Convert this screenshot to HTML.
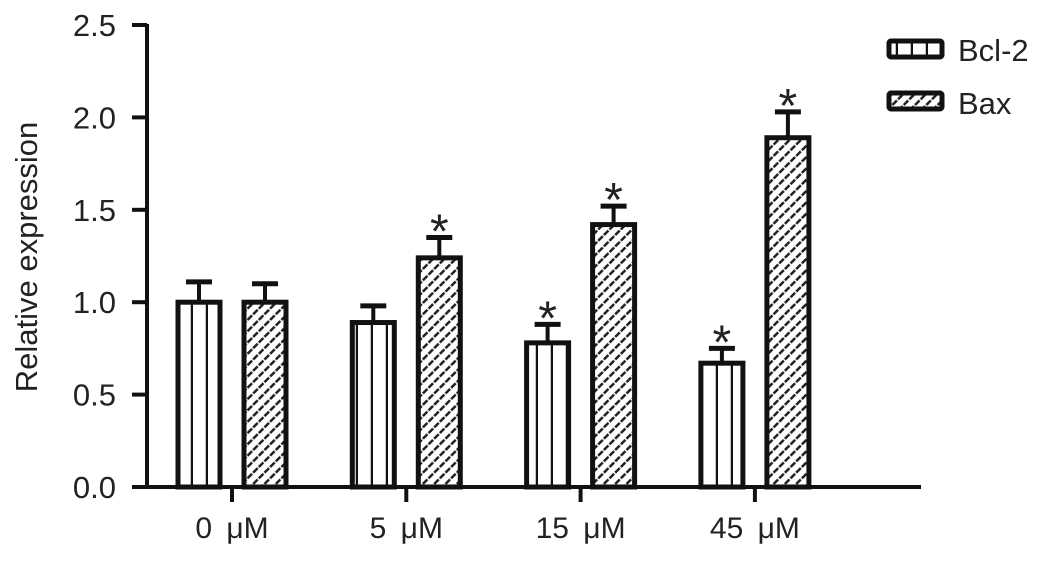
<!DOCTYPE html>
<html><head><meta charset="utf-8"><style>
body{margin:0;background:#fff;}
svg text{font-family:"Liberation Sans",Arial,sans-serif;fill:#222;}
</style></head><body>
<svg id="chart" width="1045" height="562" viewBox="0 0 1045 562">
<defs>
<pattern id="vert" patternUnits="userSpaceOnUse" width="15" height="10" x="178">
<rect width="15" height="10" fill="#fff"/><line x1="14" y1="0" x2="14" y2="10" stroke="#111" stroke-width="2.5"/>
</pattern>
<pattern id="diag" patternUnits="userSpaceOnUse" width="8" height="8" patternTransform="rotate(45)">
<rect width="8" height="8" fill="#fff"/><line x1="0" y1="0" x2="0" y2="8" stroke="#222" stroke-width="5"/><line x1="0" y1="4" x2="8" y2="4" stroke="#fff" stroke-width="1.5"/>
</pattern>
</defs>
<g id="axes"></g>
<g id="bars"></g>
<g>
<rect x="889" y="41" width="53" height="16" rx="2" fill="url(#vert)" stroke="#111" stroke-width="5"/>
<text x="958" y="61" font-size="31">Bcl-2</text>
<rect x="889" y="93" width="53" height="16" rx="2" fill="url(#diag)" stroke="#111" stroke-width="5"/>
<text x="958" y="114" font-size="31">Bax</text>
</g>
<text transform="translate(37,257) rotate(-90)" text-anchor="middle" font-size="31">Relative expression</text>
</svg>
<script>
const categories=["0 μM","5 μM","15 μM","45 μM"];
const bcl2=[1.0,0.89,0.78,0.67];
const bcl2Err=[0.11,0.09,0.10,0.08];
const bcl2Sig=[false,false,true,true];
const bax=[1.0,1.24,1.42,1.89];
const baxErr=[0.10,0.11,0.10,0.14];
const baxSig=[false,true,true,true];
const yTicks=[0,0.5,1.0,1.5,2.0,2.5];
const yTickLabels=["0.0","0.5","1.0","1.5","2.0","2.5"];

const NS="http://www.w3.org/2000/svg";
const y=v=>487-v*184.8;
const xc=i=>232+i*174.3;
function mk(tag,attrs,parent,txt){const e=document.createElementNS(NS,tag);for(const k in attrs)e.setAttribute(k,attrs[k]);if(txt!==undefined)e.textContent=txt;parent.appendChild(e);return e;}
const axes=document.getElementById('axes'),bars=document.getElementById('bars');
let e=mk('line',{x1:147,y1:y(2.5)-1,x2:147,y2:489,stroke:'#111','stroke-width':4},axes);


e=mk('line',{x1:132,y1:487,x2:921,y2:487,stroke:'#111','stroke-width':4},axes);


yTicks.forEach((t,i)=>{
 mk('line',{x1:132,y1:y(t),x2:147,y2:y(t),stroke:'#111','stroke-width':4},axes);
 const tx=mk('text',{x:116,y:y(t)+11,'text-anchor':'end','font-size':31},axes,yTickLabels[i]);
 
 
});
categories.forEach((c,i)=>{
 mk('line',{x1:xc(i),y1:487,x2:xc(i),y2:502,stroke:'#111','stroke-width':4},axes);
 const tx=mk('text',{x:xc(i),y:538,'text-anchor':'middle','font-size':30,'word-spacing':6},axes,c);
 
 
});
function bar(cx,v,err,sig,fill,name){
 const top=y(v),et=y(v+err);
 mk('line',{x1:cx,y1:top,x2:cx,y2:et,stroke:'#111','stroke-width':4},bars);
 mk('line',{x1:cx-13,y1:et,x2:cx+13,y2:et,stroke:'#111','stroke-width':5},bars);
 const r=mk('rect',{x:cx-21,y:top,width:42,height:487-top,fill:fill,stroke:'#111','stroke-width':5},bars);
 
 
 if(sig){const s=mk('text',{x:cx,y:et+10,'text-anchor':'middle','font-size':48},bars,'*');
 
 }
}
categories.forEach((c,i)=>{
 bar(xc(i)-33,bcl2[i],bcl2Err[i],bcl2Sig[i],'url(#vert)','bar-bcl2-'+i);
 bar(xc(i)+33,bax[i],baxErr[i],baxSig[i],'url(#diag)','bar-bax-'+i);
});
</script>
</body></html>
